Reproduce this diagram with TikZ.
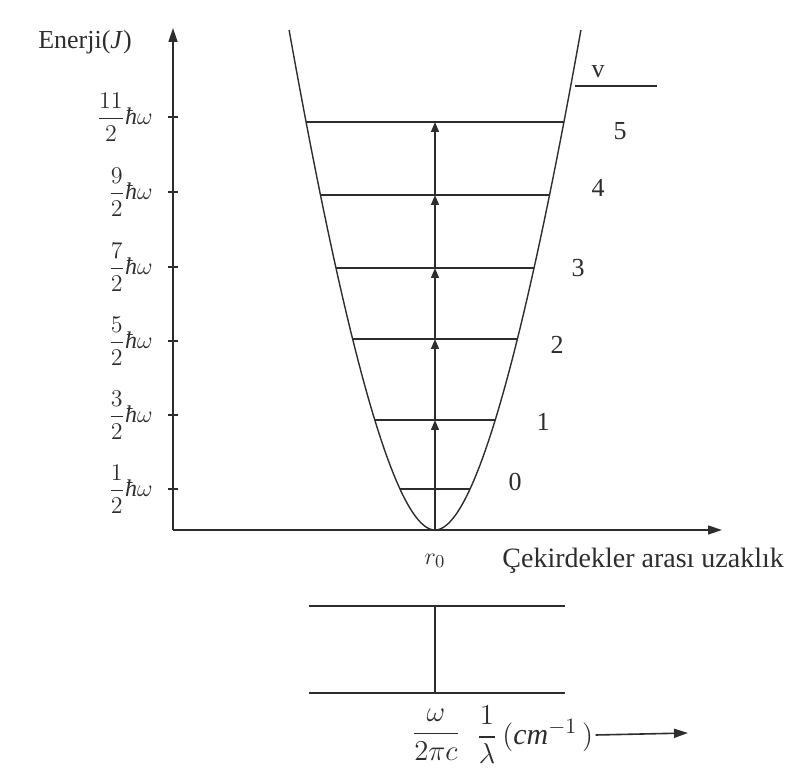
\documentclass[tikz,border=0pt]{standalone}
\usepackage{amsmath}
\usepackage{fontspec}
\setmainfont{Liberation Serif}
\usetikzlibrary{arrows.meta}
\definecolor{ink}{RGB}{45,45,45}
\newcommand{\hw}{\textit{ħ}\omega}

\begin{document}
\begin{tikzpicture}[x=0.5pt, y=-0.5pt, font=\fontsize{13}{15}\selectfont,
  axis/.style={draw=ink, line width=0.8pt},
  curve/.style={draw=ink, line width=0.7pt},
  thicklevel/.style={draw=ink, line width=1pt},
  thinlevel/.style={draw=ink, line width=0.55pt},
  jump/.style={draw=ink, line width=0.7pt, -{Triangle[length=5pt,width=4pt]}},
  tip/.style={-{Triangle[length=7pt,width=4.5pt]}},
  elabel/.style={anchor=east, inner sep=1pt, text=ink, font=\fontsize{12}{14}\selectfont},
  vlabel/.style={text=ink},
  speclabel/.style={text=ink, inner sep=1pt, font=\fontsize{15}{17}\selectfont}]
\useasboundingbox (0,0) rectangle (792,769);
% axes
\coordinate (origin) at (173,530);
\coordinate (ytop) at (173,28);
\coordinate (xend) at (722,530);
\draw[axis,tip] (origin) -- (ytop);
\draw[axis,tip] (origin) -- (xend);
\node[text=ink] (ylab) at (85,42) {Enerji(\textit{J})};
% energy ticks
\coordinate (t0) at (173,489);
\coordinate (t1) at (173,415);
\coordinate (t2) at (173,341);
\coordinate (t3) at (173,267);
\coordinate (t4) at (173,192);
\coordinate (t5) at (173,117);
\draw[axis] (t0) +(-5,0) -- +(5,0);
\draw[axis] (t1) +(-5,0) -- +(5,0);
\draw[axis] (t2) +(-5,0) -- +(5,0);
\draw[axis] (t3) +(-5,0) -- +(5,0);
\draw[axis] (t4) +(-5,0) -- +(5,0);
\draw[axis] (t5) +(-5,0) -- +(5,0);
\node[elabel] (e0) at (155,489) {$\dfrac{1}{2}\hw$};
\node[elabel] (e1) at (155,415) {$\dfrac{3}{2}\hw$};
\node[elabel] (e2) at (155,341) {$\dfrac{5}{2}\hw$};
\node[elabel] (e3) at (155,267) {$\dfrac{7}{2}\hw$};
\node[elabel] (e4) at (155,192) {$\dfrac{9}{2}\hw$};
\node[elabel] (e5) at (155,117) {$\dfrac{11}{2}\hw$};
% potential well
\coordinate (r0) at (435,530);
\draw[curve] plot[domain=-22.36:22.36, samples=101, variable=\s] ({435+5.05*\s+0.066*\s*abs(\s)}, {530-\s*\s});
\coordinate (l0L) at (400,489);
\coordinate (l0R) at (470,489);
\coordinate (l1L) at (375,420);
\coordinate (l1R) at (495,420);
\coordinate (l2L) at (353,339);
\coordinate (l2R) at (517,339);
\coordinate (l3L) at (336,268);
\coordinate (l3R) at (534,268);
\coordinate (l4L) at (320.5,195);
\coordinate (l4R) at (549.5,195);
\coordinate (l5L) at (306,122);
\coordinate (l5R) at (564,122);
\draw[thinlevel] (l0L) -- (l0R);
\draw[thicklevel] (l1L) -- (l1R);
\draw[thinlevel] (l2L) -- (l2R);
\draw[thicklevel] (l3L) -- (l3R);
\draw[thinlevel] (l4L) -- (l4R);
\draw[thicklevel] (l5L) -- (l5R);
% transitions
\draw[jump] (r0) -- (r0 |- l1L);
\draw[jump] (r0 |- l1L) -- (r0 |- l2L);
\draw[jump] (r0 |- l2L) -- (r0 |- l3L);
\draw[jump] (r0 |- l3L) -- (r0 |- l4L);
\draw[jump] (r0 |- l4L) -- (r0 |- l5L);
\node[vlabel] (n0) at (515,482) {0};
\node[vlabel] (n1) at (543,422) {1};
\node[vlabel] (n2) at (557,345) {2};
\node[vlabel] (n3) at (578,268) {3};
\node[vlabel] (n4) at (598,188) {4};
\node[vlabel] (n5) at (620,131) {5};
\coordinate (vL) at (575,86);
\coordinate (vR) at (657,86);
\draw[thicklevel] (vL) -- (vR);
\node[vlabel] (vlab) at (598,72) {v};
\node[text=ink] (r0lab) at (435,561) {$r_0$};
\node[anchor=west, inner sep=1pt, text=ink, font=\fontsize{14}{16}\selectfont] (xlab) at (500,561) {Çekirdekler arası uzaklık};
% spectrum
\coordinate (bUL) at (309,606);
\coordinate (bUR) at (565,606);
\coordinate (bLL) at (309,693);
\coordinate (bLR) at (565,693);
\draw[thinlevel] (bUL) -- (bUR);
\draw[thicklevel] (bLL) -- (bLR);
\draw[curve] (bUL -| r0) -- (bLL -| r0);
\node[speclabel] (wfrac) at (436,735) {$\dfrac{\omega}{2\pi c}$};
\node[speclabel, anchor=west] (wavenum) at (474,735) {$\dfrac{1}{\lambda}\,(\mathit{cm}^{-1}\,)$};
\coordinate (wend) at (688,733);
\draw[axis,tip] (wavenum.east) -- (wend);
\end{tikzpicture}
\end{document}
